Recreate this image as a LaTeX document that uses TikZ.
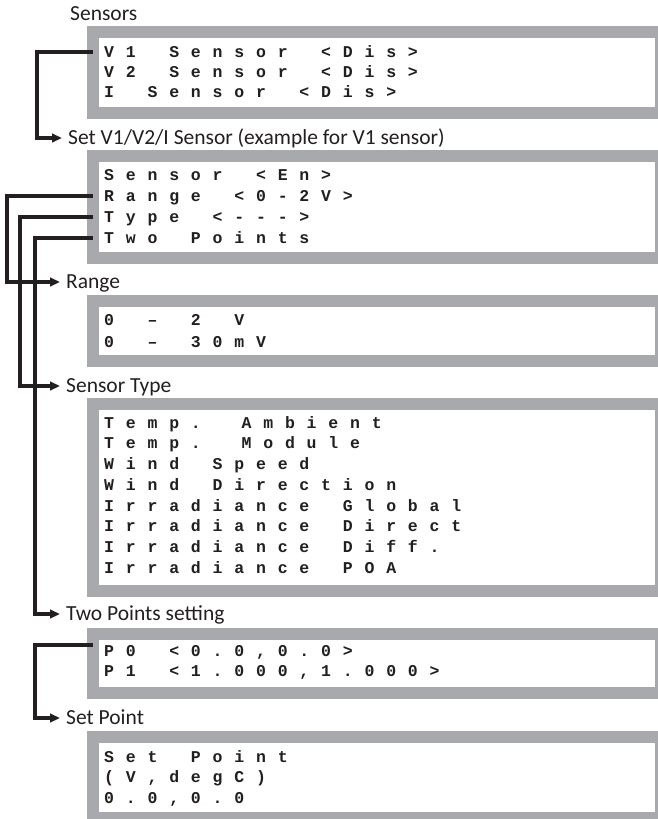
\documentclass[tikz,border=0pt]{standalone}
\usepackage{fontspec}
\usepackage{tikz}
\usetikzlibrary{arrows.meta}
\setmainfont{Carlito}
\newfontfamily\lcdfont{Liberation Mono}[LetterSpace=71.5,Ligatures=TeXOff]
\newcommand\lcdtype{\lcdfont\bfseries\fontsize{16.5}{18}\selectfont\spaceskip=33.5pt\relax}
\definecolor{framegrey}{RGB}{167,169,172}
\definecolor{linkblack}{RGB}{35,31,32}

\begin{document}
\begin{tikzpicture}[x=1pt,y=-1pt,
  lcdbox/.style={draw=framegrey,line width=12pt,fill=white,minimum width=568pt,
    anchor=north west,inner sep=0pt,outer sep=0pt},
  lcdline/.style={anchor=base west,inner sep=0pt,text height=11pt,text depth=1pt,
    font=\lcdtype,text=linkblack},
  menulabel/.style={anchor=west,inner xsep=6pt,inner ysep=0pt,text height=13.8pt,
    text depth=0pt,font=\fontsize{21.5}{25}\selectfont,text=linkblack},
  link/.style={draw=linkblack,line width=3.6pt,-{Triangle[length=10pt,width=8.5pt]}}]
  \useasboundingbox (0,0) rectangle (657,819);

  \node[lcdbox,minimum height=81pt] (sensbox) at (93,32) {};
  \node[lcdbox,minimum height=102pt] (setbox) at (93,156) {};
  \node[lcdbox,minimum height=60pt] (rngbox) at (93,301) {};
  \node[lcdbox,minimum height=187pt] (typbox) at (93,404) {};
  \node[lcdbox,minimum height=59pt] (ptsbox) at (93,634) {};
  \node[lcdbox,minimum height=81pt] (sptbox) at (93,737) {};

  \foreach \txt [count=\i] in {{V1 Sensor <Dis>},{V2 Sensor <Dis>},{I Sensor <Dis>}}
    \node[lcdline] (sens\i) at (104,{57+20*(\i-1)}) {\txt};
  \foreach \txt [count=\i] in {{Sensor <En>},{Range <0-2V>},{Type <--->},{Two Points}}
    \node[lcdline] (set\i) at (104,{180+21*(\i-1)}) {\txt};
  \foreach \txt [count=\i] in {{0 – 2 V},{0 – 30mV}}
    \node[lcdline] (rng\i) at (104,{325+22*(\i-1)}) {\txt};
  \foreach \txt [count=\i] in {{Temp. Ambient},{Temp. Module},{Wind Speed},
      {Wind Direction},{Irradiance Global},{Irradiance Direct},{Irradiance Diff.},
      {Irradiance POA}}
    \node[lcdline] (typ\i) at (104,{428+20.75*(\i-1)}) {\txt};
  \foreach \txt [count=\i] in {{P0 <0.0,0.0>},{P1 <1.000,1.000>}}
    \node[lcdline] (pts\i) at (104,{656+20*(\i-1)}) {\txt};
  \foreach \txt [count=\i] in {{Set Point},{(V,degC)},{0.0,0.0}}
    \node[lcdline] (spt\i) at (104,{762+20.5*(\i-1)}) {\txt};

  \node[menulabel] (senslbl) at (64,13.5) {Sensors};
  \node[menulabel] (setlbl) at (62,138) {Set V1/V2/I Sensor (example for V1 sensor)};
  \node[menulabel] (rnglbl) at (60,282) {Range};
  \node[menulabel] (typlbl) at (60,386) {Sensor Type};
  \node[menulabel] (ptslbl) at (60,614) {Two Points setting};
  \node[menulabel] (sptlbl) at (60,718) {Set Point};

  \draw[link] (sensbox.west |- sens1) -- ++(-56,0) |- (setlbl.west);
  \draw[link] (setbox.west |- set2) -- ++(-86,0) |- (rnglbl.west);
  \draw[link] (setbox.west |- set3) -- ++(-73,0) |- (typlbl.west);
  \draw[link] (setbox.west |- set4) -- ++(-58,0) |- (ptslbl.west);
  \draw[link] (ptsbox.west |- pts1.north) -- ++(-58,0) |- (sptlbl.west);
\end{tikzpicture}
\end{document}
